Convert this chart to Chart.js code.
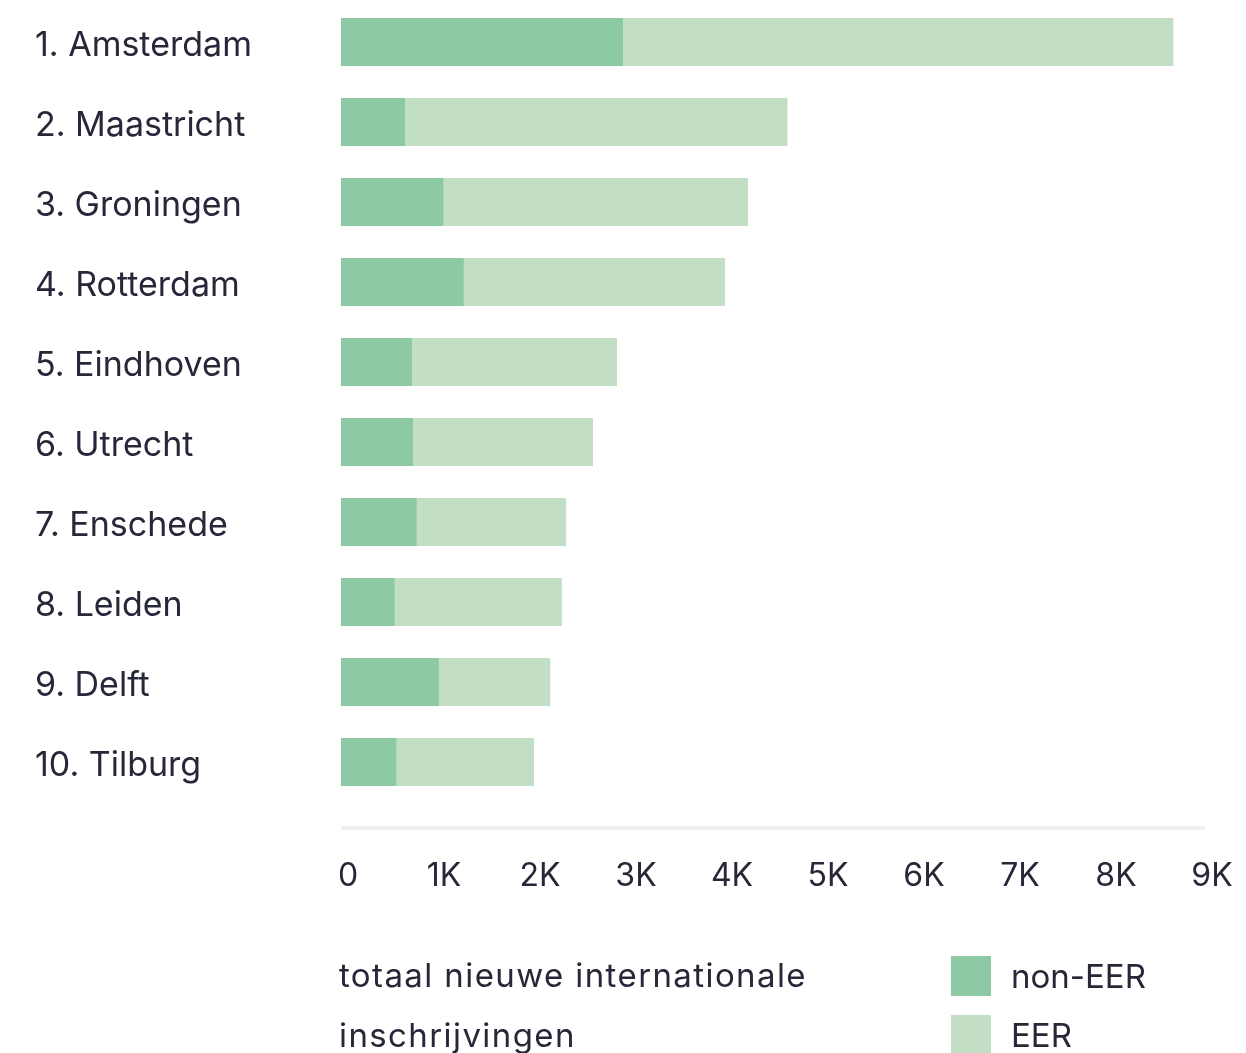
<!DOCTYPE html>
<html>
<head>
<meta charset="utf-8">
<script src="https://cdn.jsdelivr.net/npm/chart.js@4"></script>
<style>
  html, body { margin: 0; padding: 0; background: #ffffff; overflow: hidden; }
  #wrap { position: relative; width: 1246px; height: 1053px; }
  canvas { position: absolute; left: 0; top: 0; }
  .txt { font-family: Inter, "Noto Sans", sans-serif; font-size: 33px; color: #262839; }
  #title { position: absolute; left: 339px; top: 945px; line-height: 60px; letter-spacing: 1.4px; }
  #legend { position: absolute; left: 951px; top: 946px; }
  .item { display: flex; align-items: center; height: 59px; }
  .sw { width: 40px; height: 40px; margin-right: 20px; }
</style>
</head>
<body>
<div id="wrap">
  <canvas id="c" width="1246" height="1053"></canvas>
  <div id="title" class="txt">totaal nieuwe internationale<br>inschrijvingen</div>
  <div id="legend" class="txt"></div>
</div>
<script>
const categories = ["1. Amsterdam", "2. Maastricht", "3. Groningen", "4. Rotterdam", "5. Eindhoven",
                    "6. Utrecht", "7. Enschede", "8. Leiden", "9. Delft", "10. Tilburg"];
const nonEER = [2940, 670, 1070, 1280, 740, 750, 790, 560, 1020, 580];
const EER    = [5730, 3980, 3170, 2720, 2135, 1875, 1555, 1740, 1160, 1430];
const seriesNames = ["non-EER", "EER"];
const seriesColors = ["#8ec9a5", "#c2dfc6"];
const tickValues = [0, 1000, 2000, 3000, 4000, 5000, 6000, 7000, 8000, 9000];
const tickLabels = ["0", "1K", "2K", "3K", "4K", "5K", "6K", "7K", "8K", "9K"];

const textColor = "#262839";
const fontFamily = "Inter, 'Noto Sans', sans-serif";

const axisLinePlugin = {
  id: "axisLine",
  afterDatasetsDraw(chart) {
    const xs = chart.scales.x;
    const ctx = chart.ctx;
    const y = chart.chartArea.bottom + 26;
    ctx.save();
    ctx.strokeStyle = "#f3efec";
    ctx.lineWidth = 4;
    ctx.beginPath();
    ctx.moveTo(xs.getPixelForValue(tickValues[0]), y);
    ctx.lineTo(xs.getPixelForValue(tickValues[tickValues.length - 1]), y);
    ctx.stroke();
    ctx.restore();
  }
};

const chart = new Chart(document.getElementById("c"), {
  type: "bar",
  data: {
    labels: categories,
    datasets: [
      { label: seriesNames[0], data: nonEER, backgroundColor: seriesColors[0] },
      { label: seriesNames[1], data: EER, backgroundColor: seriesColors[1] }
    ]
  },
  options: {
    indexAxis: "y",
    responsive: false,
    animation: false,
    devicePixelRatio: 1,
    layout: { padding: { left: 35, right: 41, top: 2, bottom: 0 } },
    datasets: { bar: { barPercentage: 0.6, categoryPercentage: 1.0 } },
    plugins: { legend: { display: false }, tooltip: { enabled: false } },
    scales: {
      x: {
        stacked: true,
        min: 0,
        max: 9000,
        afterBuildTicks(scale) { scale.ticks = tickValues.map(v => ({ value: v })); },
        grid: { display: false },
        border: { display: false },
        ticks: {
          padding: 47,
          labelOffset: 7,
          color: textColor,
          font: { family: fontFamily, size: 32 },
          maxRotation: 0,
          autoSkip: false,
          callback(value) { return tickLabels[tickValues.indexOf(value)]; }
        },
        afterFit(scale) { scale.height = 251; scale.paddingLeft = 0; scale.paddingRight = 0; }
      },
      y: {
        stacked: true,
        grid: { display: false },
        border: { display: false },
        ticks: {
          crossAlign: "far",
          labelOffset: 4,
          color: textColor,
          font: { family: fontFamily, size: 34 }
        },
        afterFit(scale) { scale.width = 306; scale.paddingTop = 0; scale.paddingBottom = 0; }
      }
    }
  },
  plugins: [axisLinePlugin]
});

const legend = document.getElementById("legend");
chart.data.datasets.forEach(ds => {
  const row = document.createElement("div");
  row.className = "item";
  const sw = document.createElement("div");
  sw.className = "sw";
  sw.style.background = ds.backgroundColor;
  const t = document.createElement("span");
  t.textContent = ds.label;
  row.appendChild(sw);
  row.appendChild(t);
  legend.appendChild(row);
});
</script>
</body>
</html>
